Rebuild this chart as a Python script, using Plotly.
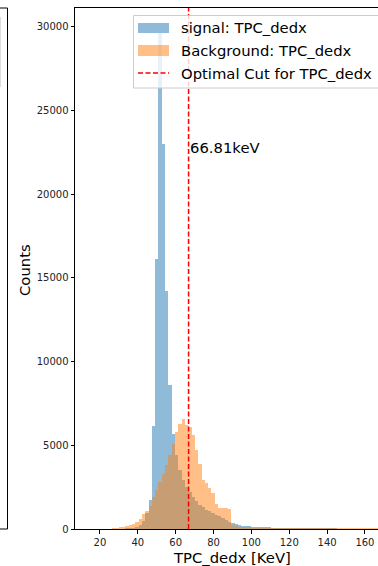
import plotly.graph_objects as go

# ---------------- data ----------------
BIN_START = 26.4
BIN_WIDTH = 1.75

signal_counts = [
    0, 0, 0, 0, 5, 15, 40, 100, 250, 500,
    950, 1730, 6150, 16100, 29640, 23000, 14200, 8600, 5700, 4400,
    3500, 2900, 2500, 2200, 1900, 1650, 1450, 1300, 1150, 1050,
    950, 850, 750, 650, 520, 420, 330, 270, 220, 190,
    170, 150, 130, 115, 100, 90, 80, 70, 60, 50,
    45, 40, 35, 30, 25, 20, 15, 12, 10, 15,
    8, 5, 12, 4, 3, 3, 2, 2, 0, 0,
    0, 0, 0, 0, 0, 0, 0, 0, 0, 0,
    0, 0,
]

background_counts = [
    25, 40, 70, 100, 150, 220, 300, 420, 600, 900,
    1100, 1350, 1900, 2300, 2800, 3300, 3800, 4400, 5100, 5800,
    6300, 6550, 6200, 6100, 5600, 4700, 3900, 2900, 2750, 2450,
    2150, 1500, 1250, 1250, 1230, 1200, 250, 150, 110, 90,
    75, 65, 55, 50, 45, 40, 40, 35, 30, 30,
    25, 25, 20, 20, 15, 15, 12, 10, 8, 6,
    5, 5, 4, 4, 12, 3, 10, 3, 2, 10,
    2, 2, 10, 2, 2, 2, 10, 2, 2, 10,
    2, 0,
]

CUT_VALUE = 66.81
CUT_LABEL = "66.81keV"
CUT_LABEL_Y = 22800

x_ticks = [20, 40, 60, 80, 100, 120, 140, 160]
y_ticks = [0, 5000, 10000, 15000, 20000, 25000, 30000]

X_RANGE = [6.8, 166.9]
Y_RANGE = [0, 31120]

SIGNAL_NAME = "signal: TPC_dedx"
BACKGROUND_NAME = "Background: TPC_dedx"
CUT_NAME = "Optimal Cut for TPC_dedx"
X_TITLE = "TPC_dedx [KeV]"
Y_TITLE = "Counts"

BLUE = "#1f77b4"
ORANGE = "#ff7f0e"
FONT = "DejaVu Sans"

# ---------------- figure ----------------
W, H = 378, 566
ML, MR, MT, MB = 75, 0, 8, 37
PW = W - ML - MR
PH = H - MT - MB


def px(xpix):
    return (xpix - ML) / PW


def py(ypix):
    return (H - MB - ypix) / PH


centers_sig = [BIN_START + BIN_WIDTH * (i + 0.5) for i in range(len(signal_counts))]
centers_bkg = [BIN_START + BIN_WIDTH * (i + 0.5) for i in range(len(background_counts))]

fig = go.Figure()
fig.add_trace(go.Bar(
    x=centers_sig, y=signal_counts, width=BIN_WIDTH,
    marker=dict(color=BLUE, opacity=0.5, line=dict(width=0)),
    name=SIGNAL_NAME, showlegend=False,
))
fig.add_trace(go.Bar(
    x=centers_bkg, y=background_counts, width=BIN_WIDTH,
    marker=dict(color=ORANGE, opacity=0.5, line=dict(width=0)),
    name=BACKGROUND_NAME, showlegend=False,
))

shapes = []
# optimal cut line
shapes.append(dict(type="line", xref="x", yref="paper", x0=CUT_VALUE, x1=CUT_VALUE,
                   y0=0, y1=1, line=dict(color="red", width=1.5, dash="5px,2.5px")))

# remnants of the neighbouring (left) panel
shapes.append(dict(type="line", xref="paper", yref="paper", x0=px(7.5), x1=px(7.5), y0=0, y1=1,
                   line=dict(color="black", width=1)))
shapes.append(dict(type="line", xref="paper", yref="paper", x0=px(-2), x1=px(7.5), y0=1, y1=1,
                   line=dict(color="black", width=1)))
shapes.append(dict(type="line", xref="paper", yref="paper", x0=px(-2), x1=px(7.5), y0=0, y1=0,
                   line=dict(color="black", width=1)))
shapes.append(dict(type="line", xref="paper", yref="paper", x0=px(0.5), x1=px(0.5), y0=py(17), y1=py(87),
                   line=dict(color="#dddddd", width=1)))

# manual legend (matplotlib style)
shapes.append(dict(type="rect", xref="paper", yref="paper", x0=px(133.5), x1=px(382),
                   y0=py(88), y1=py(15.5), line=dict(color="#cccccc", width=1),
                   fillcolor="rgba(255,255,255,0.8)"))
shapes.append(dict(type="rect", xref="paper", yref="paper", x0=px(138), x1=px(169),
                   y0=py(33), y1=py(23), line=dict(width=0),
                   fillcolor="rgba(31,119,180,0.5)"))
shapes.append(dict(type="rect", xref="paper", yref="paper", x0=px(138), x1=px(169),
                   y0=py(56), y1=py(45), line=dict(width=0),
                   fillcolor="rgba(255,127,14,0.5)"))
shapes.append(dict(type="line", xref="paper", yref="paper", x0=px(138), x1=px(169),
                   y0=py(73), y1=py(73), line=dict(color="red", width=1.5, dash="5px,2.5px")))

annotations = []
for name, ycen in [(SIGNAL_NAME, 28), (BACKGROUND_NAME, 50.5), (CUT_NAME, 73)]:
    annotations.append(dict(text=name, xref="paper", yref="paper", x=px(179), y=py(ycen),
                            xanchor="left", yanchor="middle", showarrow=False,
                            font=dict(family=FONT, size=14.8, color="black")))

annotations.append(dict(text=CUT_LABEL, xref="x", yref="y", x=CUT_VALUE, y=CUT_LABEL_Y,
                        xanchor="left", yanchor="middle", xshift=-1, showarrow=False,
                        font=dict(family=FONT, size=14.8, color="black")))

annotations.append(dict(text=Y_TITLE, xref="paper", yref="paper", x=px(24), y=py(270),
                        xanchor="center", yanchor="middle", textangle=-90, showarrow=False,
                        font=dict(family=FONT, size=14.8, color="black")))
annotations.append(dict(text=X_TITLE, xref="paper", yref="paper", x=px(231.5), y=py(557),
                        xanchor="center", yanchor="middle", showarrow=False,
                        font=dict(family=FONT, size=14.8, color="black")))

fig.update_layout(
    width=W, height=H,
    margin=dict(l=ML, r=MR, t=MT, b=MB, pad=0),
    paper_bgcolor="white", plot_bgcolor="white",
    barmode="overlay", bargap=0,
    showlegend=False,
    shapes=shapes, annotations=annotations,
    font=dict(family=FONT, color="black"),
    xaxis=dict(range=X_RANGE, tickvals=x_ticks, ticktext=[str(v) for v in x_ticks],
               showgrid=False, zeroline=False, showline=True, linecolor="black", linewidth=1,
               mirror=True, ticks="outside", ticklen=3.5, tickwidth=1, tickcolor="black",
               tickfont=dict(family=FONT, size=10, color="#222222")),
    yaxis=dict(range=Y_RANGE, tickvals=y_ticks, ticktext=[str(v) for v in y_ticks],
               showgrid=False, zeroline=False, showline=True, linecolor="black", linewidth=1,
               ticks="outside", ticklen=3.5, tickwidth=1, tickcolor="black",
               tickfont=dict(family=FONT, size=10, color="#222222")),
)

fig.write_html("out.html")
